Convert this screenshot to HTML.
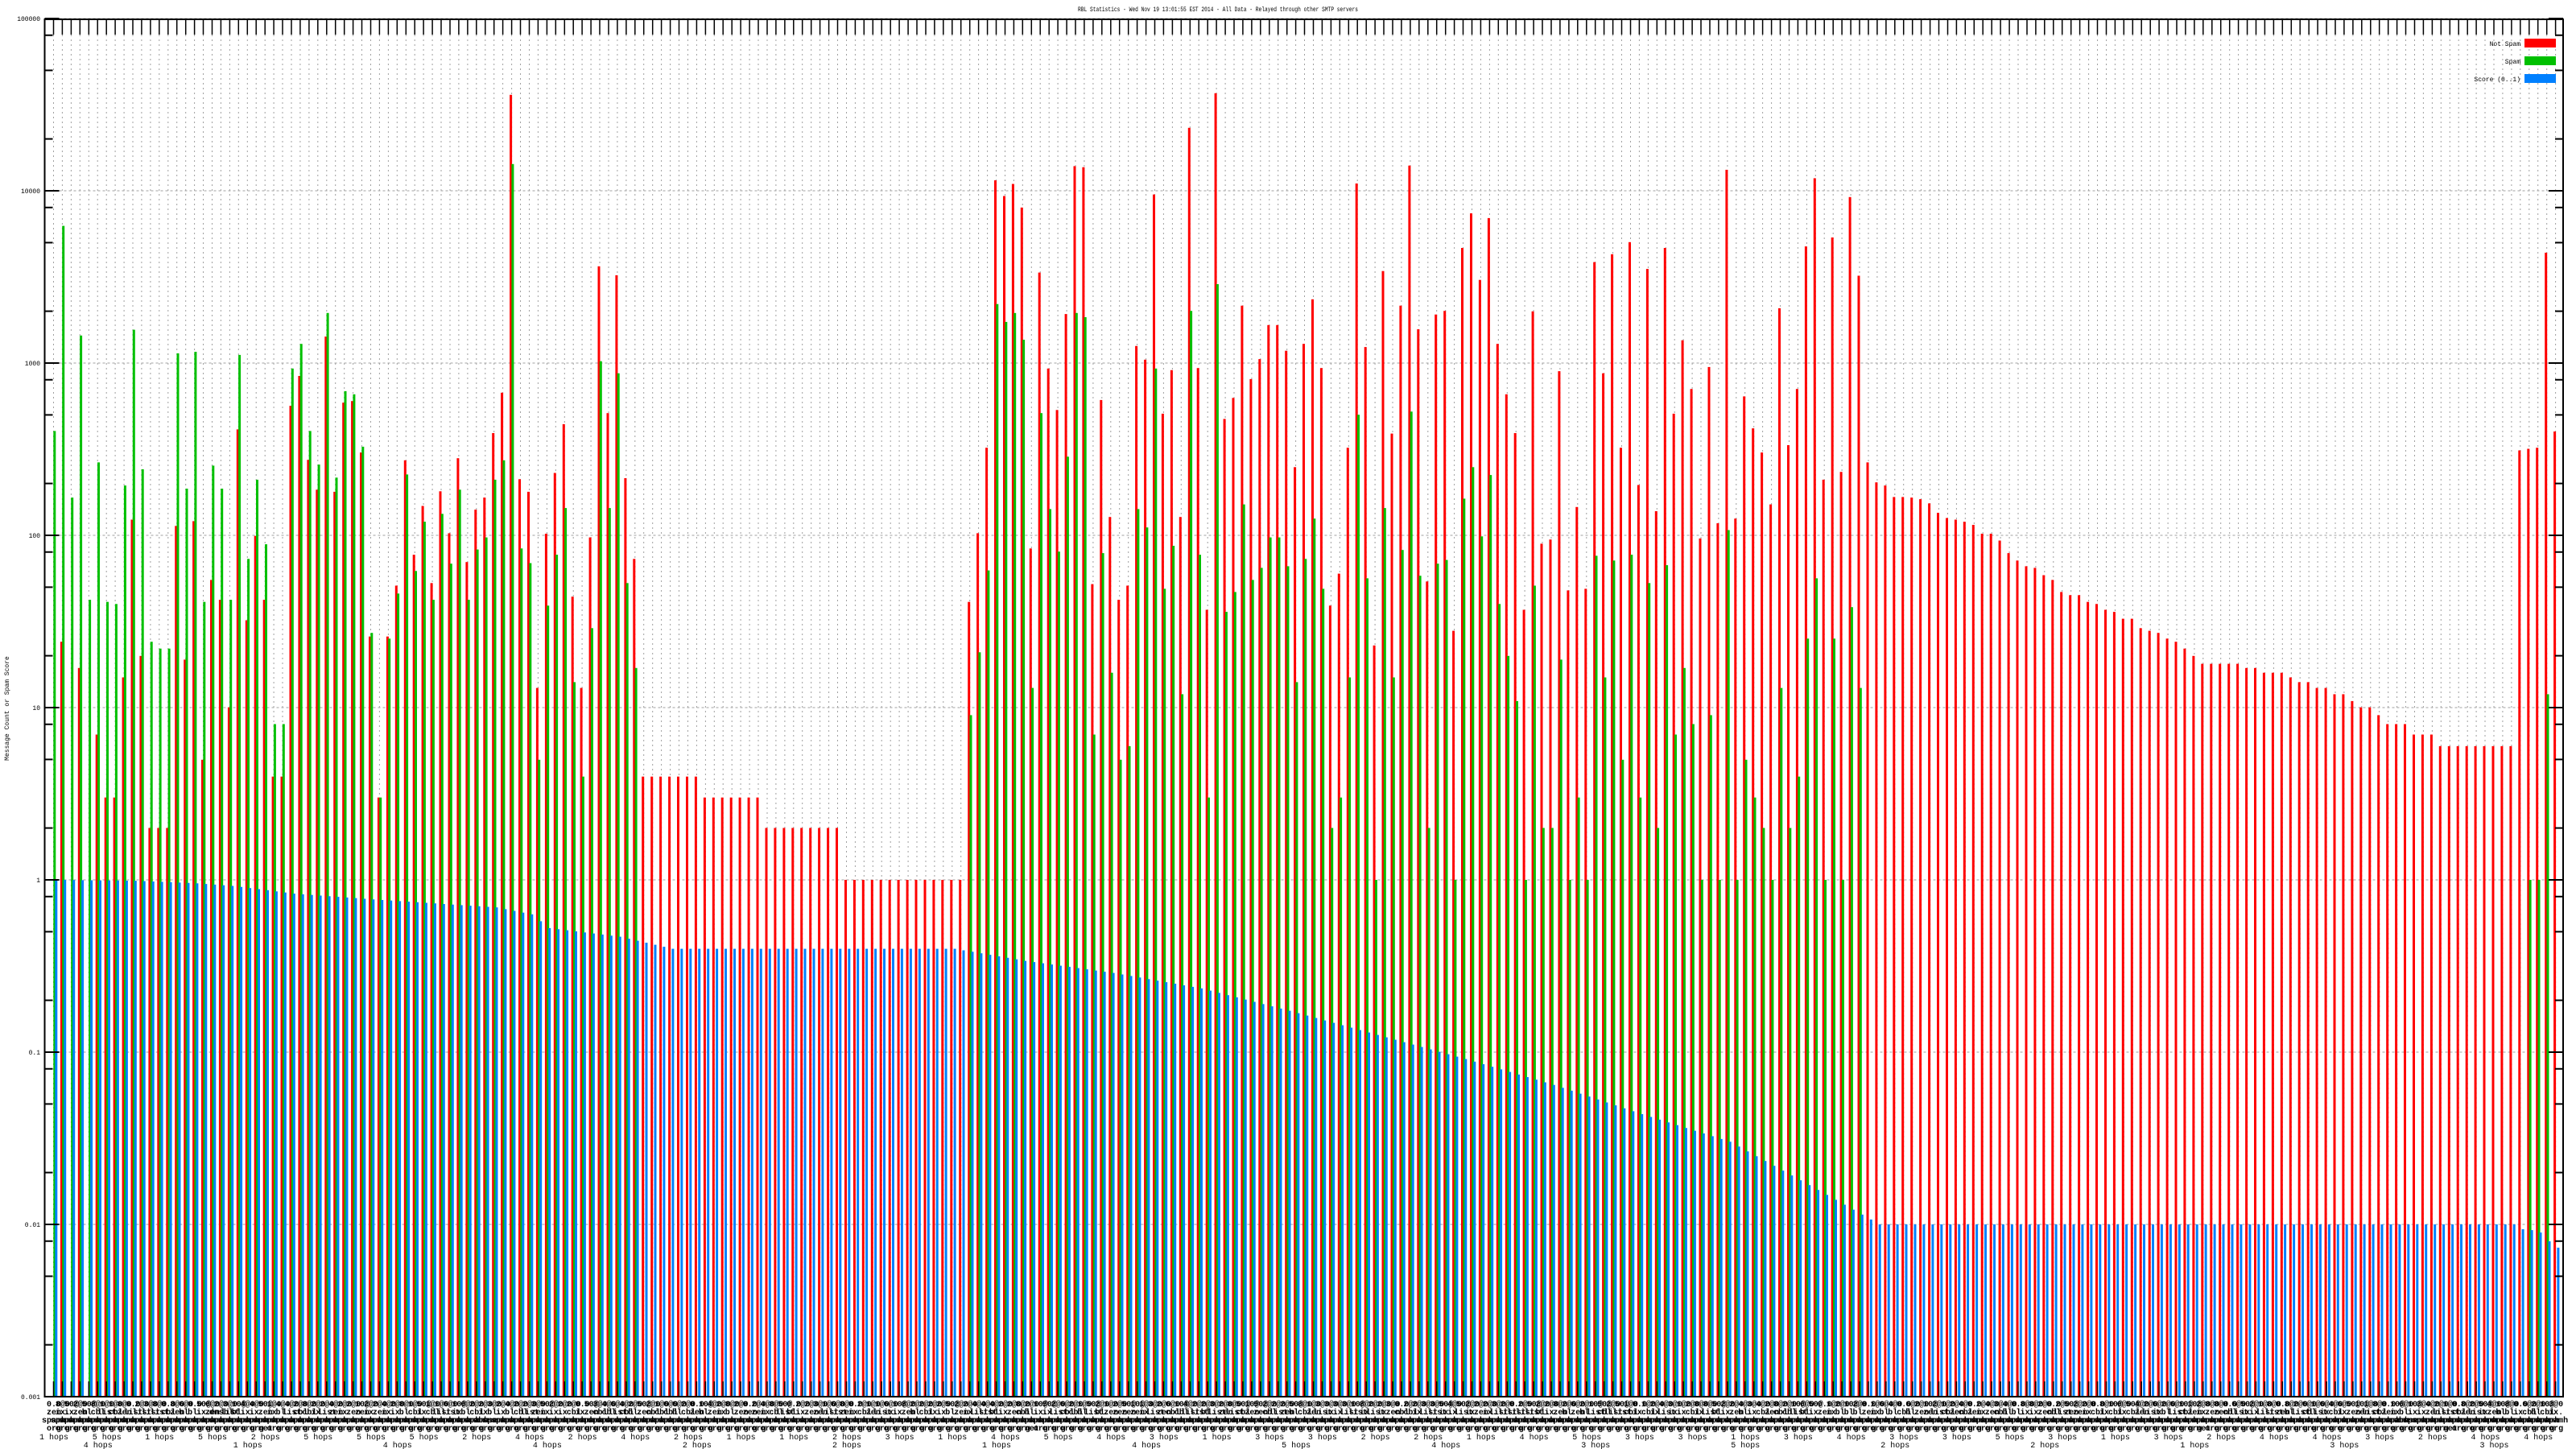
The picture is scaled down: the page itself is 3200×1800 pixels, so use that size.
<!DOCTYPE html>
<html><head><meta charset="utf-8"><style>
html,body{margin:0;padding:0;background:#fff;}
svg{display:block;}
text{font-family:"Liberation Mono",monospace;}
</style></head><body>
<svg id="c" xmlns="http://www.w3.org/2000/svg" width="3200" height="1800" viewBox="0 0 3200 1800"></svg>
<script>
(function(){
var N=285, X0=64, P=10.944, L=55.5, R=3184, T=24, B=1735, BASE=1093, DEC=214;
function yOf(lg){return BASE-DEC*lg;}
function fromImg(v){return (1542-v)/328.5;}
var red=[null,1088,null,1138,null,1265,1385,1385,1156,855,1115,1443,1443,1443,867,1122,858,1313,970,1008,1213,683,1047,886,1008,1345,1345,638,581,741,798,506,802,632,629,727,1078,1385,1078,981,742,922,829,976,801,881,738,936,836,
813,690,613,45,778,802,1176,882,766,673,1002,1176,889,372,652,389,776,930];
var i;
for(i=0;i<7;i++)red.push(1345);for(i=0;i<7;i++)red.push(1385);for(i=0;i<9;i++)red.push(1443);for(i=0;i<14;i++)red.push(1542);
red=red.concat([1012,881,718,208,238,215,260,910,384,567,646,463,181,183,978,627,850,1008,981,524,550,235,653,570,850,108,566,1027,42,663,623,447,587,549,484,484,533,755,520,435,566,1019,958,718,
214,526,1095,381,691,447,180,492,973,464,457,1067,337,271,398,280,520,616,690,1027,458,901,893,572,990,831,987,364,576,349,718,326,789,377,839,337,653,513,606,891,564,862,188,853,620,681,727,826,452,
713,606,334,204,779,317,764,240,390,746,784,790,812,812,813,816,824,842,852,855,859,865,882,882,895,919,933,944,947,961,970,993,999,999,1012,1016,1027,1031,1044,1044,1062,1067,1071,1082,1088,1101,1115,1130,1130,
1130,1130,1130,1138,1138,1147,1147,1147,1156,1165,1165,1176,1176,1188,1188,1201,1213,1213,1228,1245,1245,1245,1265,1265,1265]);
for(i=0;i<9;i++)red.push(1287);
red=red.concat([723,720,718,346,687]);
var green=[686,295,813,504,1008,746,1012,1016,790,493,759,1088,1101,1101,538,796,535,1012,752,796,1008,541,930,779,902,1245,1245,567,520,686,750,461,775,610,616,716,1071,1385,1082,996,769,953,859,1008,844,939,798,1008,912,
889,779,742,177,910,938,1313,1019,922,833,1165,1345,1062,553,833,576,976,1138];
for(i=0;i<37;i++)green.push(null);
green=green.concat([1228,1108,952,444,478,461,512,1176,652,835,916,735,461,469,1265,919,1147,1313,1287,835,870,567,987,905,1188,457,922,1385,406,1031,993,826,970,947,889,889,944,1165,930,853,987,1443,1385,1156,
655,967,1542,833,1156,913,649,962,1443,939,932,1542,815,755,887,770,1016,1115,1201,1542,981,1443,1443,1122,1542,1385,1542,924,1156,933,1313,922,1385,976,1443,942,1265,1138,1245,1542,1228,1542,875,1542,1313,1385,1443,1542,1176,
1443,1345,1082,967,1542,1082,1542,1022,1176]);
while(green.length<281)green.push(null);
green=green.concat([1542,1542,1188,null]);
var knots=[[0,0],[9,-0.005],[16,-0.02],[20,-0.035],[24,-0.06],[27,-0.08],[35,-0.11],[50,-0.16],[54,-0.2],[56,-0.28],[64,-0.33],[70,-0.40],[102,-0.40],[110,-0.47],[120,-0.54],[130,-0.63],[140,-0.76],[150,-0.9],[160,-1.04],[170,-1.19],[180,-1.36],[190,-1.52],[200,-1.8],[207,-2.0],[279,-2.0],[280,-2.028],[281,-2.033],[282,-2.047],[283,-2.098],[284,-2.135]];
function blue(g){for(var k=0;k<knots.length-1;k++){var a=knots[k],b=knots[k+1];if(g>=a[0]&&g<=b[0]){return a[1]+(b[1]-a[1])*(g-a[0])/(b[0]-a[0]);}}return -2;}
var s=[];
for(var d=-3;d<=5;d++){var y=yOf(d);s.push('<line x1="'+L+'" y1="'+y+'" x2="'+R+'" y2="'+y+'" stroke="#a0a0a0" stroke-width="1" stroke-dasharray="3,3"/>');}
for(i=0;i<N;i++){var gx=(X0+P*i+2.5).toFixed(1);s.push('<line x1="'+gx+'" y1="43" x2="'+gx+'" y2="'+B+'" stroke="#a0a0a0" stroke-width="1" stroke-dasharray="2,4"/>');}
for(i=0;i<N;i++){var x=X0+P*i;
 if(red[i]!=null){var yt=yOf(fromImg(red[i]));s.push('<rect x="'+x.toFixed(1)+'" y="'+yt.toFixed(1)+'" width="3" height="'+(B-yt).toFixed(1)+'" fill="#ff0000"/>');}
 if(green[i]!=null){var yt2=yOf(fromImg(green[i]));s.push('<rect x="'+(x+2.3).toFixed(1)+'" y="'+yt2.toFixed(1)+'" width="3" height="'+(B-yt2).toFixed(1)+'" fill="#00c000"/>');}
 var yb=yOf(blue(i));s.push('<rect x="'+(x+4.3).toFixed(1)+'" y="'+yb.toFixed(1)+'" width="3" height="'+(B-yb).toFixed(1)+'" fill="#0080ff"/>');
}
s.push('<rect x="'+L+'" y="'+T+'" width="'+(R-L)+'" height="'+(B-T)+'" fill="none" stroke="#000" stroke-width="2"/>');
for(i=0;i<N;i++){var tx=(X0+P*i+2.5).toFixed(1);s.push('<line x1="'+tx+'" y1="'+T+'" x2="'+tx+'" y2="43" stroke="#000" stroke-width="1.5"/>');s.push('<line x1="'+tx+'" y1="'+B+'" x2="'+tx+'" y2="'+(B-19)+'" stroke="#000" stroke-width="1.5"/>');}
var labs=['0.001','0.01','0.1','1','10','100','1000','10000','100000'];
for(d=-3;d<=5;d++){var y0=yOf(d);
 s.push('<line x1="'+L+'" y1="'+y0+'" x2="'+(L+18)+'" y2="'+y0+'" stroke="#000" stroke-width="2"/>');
 s.push('<line x1="'+R+'" y1="'+y0+'" x2="'+(R-18)+'" y2="'+y0+'" stroke="#000" stroke-width="2"/>');
 s.push('<text x="50" y="'+(y0+3)+'" font-size="8" text-anchor="end" fill="#000">'+labs[d+3]+'</text>');
 if(d<5){[0.301,0.699,0.903].forEach(function(m){var ym=yOf(d+m);s.push('<line x1="'+L+'" y1="'+ym+'" x2="'+(L+10)+'" y2="'+ym+'" stroke="#000" stroke-width="2"/>');s.push('<line x1="'+R+'" y1="'+ym+'" x2="'+(R-10)+'" y2="'+ym+'" stroke="#000" stroke-width="2"/>');});}
}
s.push('<text x="1339" y="14" font-size="8" textLength="348" lengthAdjust="spacingAndGlyphs" fill="#000">RBL Statistics - Wed Nov 19 13:01:55 EST 2014 - All Data - Relayed through other SMTP servers</text>');
s.push('<text transform="translate(11,880) rotate(-90)" font-size="8" text-anchor="middle" fill="#000">Message Count or Spam Score</text>');
var lg=[['Not Spam','#ff0000',48],['Spam','#00c000',70],['Score (0..1)','#0080ff',92]];
lg.forEach(function(l){s.push('<text x="3131" y="'+(l[2]+9)+'" font-size="8" text-anchor="end" fill="#000">'+l[0]+'</text>');s.push('<rect x="3136" y="'+l[2]+'" width="39" height="11" fill="'+l[1]+'"/>');});
var r1=['2@0','2@0','50@','3@0','2@0','4@0','1@0','8@0','6@0','0.0','10@'],r2=['zen','spam','bl.','dnsbl','cbl','psbl','ix.','b.b','list','dbl'],r3=['spamh','abuse','dnsbl','surbl','uceprot','barrac','sorbs','mailsp'],r4=['org','net','com','info','de','ch','dk','at'];
var seed=7;function rnd(n){seed=(seed*1103515245+12345)%2147483648;return seed%n;}
for(i=0;i<N;i++){var cx=(X0+P*i+3).toFixed(1);
 s.push('<text x="'+cx+'" y="1747" font-size="10" font-weight="bold" text-anchor="middle" fill="#000">'+r1[rnd(r1.length)]+'</text>');
 s.push('<text x="'+cx+'" y="1757" font-size="10" font-weight="bold" text-anchor="middle" fill="#000">'+r2[rnd(r2.length)]+'</text>');
 s.push('<text x="'+cx+'" y="1767" font-size="10" font-weight="bold" text-anchor="middle" fill="#000">'+r3[rnd(r3.length)]+'</text>');
 s.push('<text x="'+cx+'" y="1777" font-size="10" font-weight="bold" text-anchor="middle" fill="#000">'+r4[rnd(r4.length)]+'</text>');
 if(i%6==0){s.push('<text x="'+cx+'" y="1788" font-size="10" text-anchor="middle" fill="#000">'+(1+rnd(5))+' hops</text>');}
 if(i%17==5){s.push('<text x="'+cx+'" y="1798" font-size="10" text-anchor="middle" fill="#000">'+(1+rnd(5))+' hops</text>');}
}
document.getElementById('c').innerHTML=s.join('');
})();
</script>
</body></html>
